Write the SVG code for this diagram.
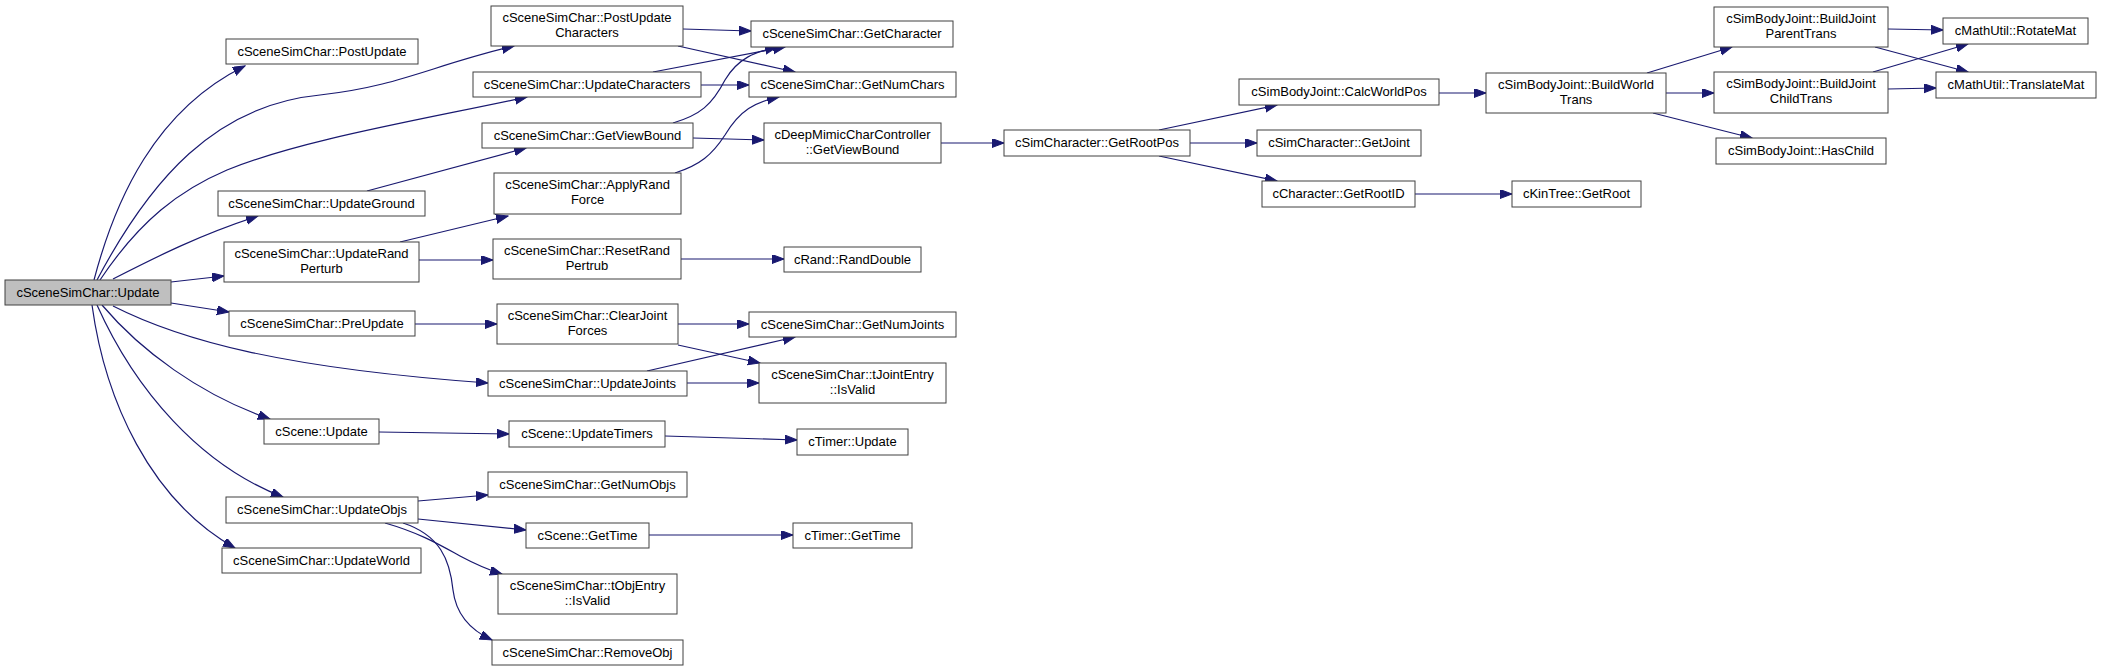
<svg xmlns="http://www.w3.org/2000/svg" width="2101" height="671" viewBox="0 0 2101 671">
<style>
.n rect{fill:#ffffff;stroke:#404040;stroke-width:1}
.n.cur rect{fill:#bfbfbf}
.n text{font-family:"Liberation Sans",Arial,sans-serif;font-size:13px;fill:#000;text-anchor:middle}
.e path{fill:none;stroke:#191970;stroke-width:1.2;marker-end:url(#ah)}
</style>
<defs>
<marker id="ah" markerUnits="userSpaceOnUse" markerWidth="13" markerHeight="10" refX="12" refY="4.5" orient="auto">
<path d="M0,0 L12,4.5 L0,9 z" fill="#191970" stroke="#191970" stroke-width="1"/>
</marker>
</defs>
<rect width="2101" height="671" fill="#ffffff"/>
<g id="edges" class="e">
<path d="M94,280 C115,200 155,110 245,66"/>
<path d="M97,280 C150,180 215,105 320,95 C400,86 430,66 514,46"/>
<path d="M100,280 C140,220 180,190 227,170 C300,140 420,120 527,97"/>
<path d="M113,279 C160,255 200,235 258,216"/>
<path d="M171,282 L224,276"/>
<path d="M171,303 L229,312"/>
<path d="M113,306 C180,340 280,368 488,383"/>
<path d="M102,305 C140,350 200,395 270,419"/>
<path d="M97,305 C135,390 200,465 283,497"/>
<path d="M92,305 C105,400 150,500 235,548"/>
<path d="M683,29 L751,31"/>
<path d="M678,46 L795,72"/>
<path d="M653,72 L785,47"/>
<path d="M701,85 L749,85"/>
<path d="M673,123 C700,115 712,105 725,80 C738,58 755,52 777,47"/>
<path d="M693,138 L764,140"/>
<path d="M675,173 C700,165 712,155 725,135 C740,110 755,102 779,97"/>
<path d="M367,191 L526,148"/>
<path d="M400,242 L508,216"/>
<path d="M419,260 L493,260"/>
<path d="M681,259 L784,259"/>
<path d="M415,324 L497,324"/>
<path d="M678,324 L749,324"/>
<path d="M678,345 L760,363"/>
<path d="M647,371 L795,337"/>
<path d="M687,383 L759,383"/>
<path d="M379,432 L509,434"/>
<path d="M665,436 L797,440"/>
<path d="M418,501 L488,495"/>
<path d="M418,519 L526,530"/>
<path d="M649,535 L793,535"/>
<path d="M385,523 C420,533 440,545 460,556 C475,564 485,569 502,574"/>
<path d="M403,523 C440,535 450,560 453,590 C456,615 470,630 492,640"/>
<path d="M941,143 L1004,143"/>
<path d="M1159,130 L1277,105"/>
<path d="M1190,143 L1257,143"/>
<path d="M1159,156 L1277,181"/>
<path d="M1439,93 L1486,93"/>
<path d="M1415,194 L1512,194"/>
<path d="M1647,73 L1732,47"/>
<path d="M1666,93 L1714,93"/>
<path d="M1653,113 L1752,138"/>
<path d="M1888,29 L1943,30"/>
<path d="M1875,47 L1968,72"/>
<path d="M1873,72 L1968,44"/>
<path d="M1888,89 L1936,88"/>
</g>
<g id="n_update" class="n cur"><rect x="5" y="280" width="166" height="25"/><text x="88" y="297">cSceneSimChar::Update</text></g>
<g id="n_postupdate" class="n"><rect x="226" y="39" width="192" height="25"/><text x="322" y="56">cSceneSimChar::PostUpdate</text></g>
<g id="n_updateground" class="n"><rect x="218" y="191" width="207" height="25"/><text x="321.5" y="208">cSceneSimChar::UpdateGround</text></g>
<g id="n_updaterandperturb" class="n"><rect x="224" y="242" width="195" height="40"/><text x="321.5" y="258">cSceneSimChar::UpdateRand</text><text x="321.5" y="273">Perturb</text></g>
<g id="n_preupdate" class="n"><rect x="229" y="311" width="186" height="25"/><text x="322" y="328">cSceneSimChar::PreUpdate</text></g>
<g id="n_updatejoints" class="n"><rect x="488" y="371" width="199" height="25"/><text x="587.5" y="388">cSceneSimChar::UpdateJoints</text></g>
<g id="n_scene_update" class="n"><rect x="264" y="419" width="115" height="25"/><text x="321.5" y="436">cScene::Update</text></g>
<g id="n_updateobjs" class="n"><rect x="226" y="497" width="192" height="26"/><text x="322" y="514">cSceneSimChar::UpdateObjs</text></g>
<g id="n_updateworld" class="n"><rect x="222" y="548" width="199" height="25"/><text x="321.5" y="565">cSceneSimChar::UpdateWorld</text></g>
<g id="n_postupdatechars" class="n"><rect x="491" y="6" width="192" height="40"/><text x="587" y="22">cSceneSimChar::PostUpdate</text><text x="587" y="37">Characters</text></g>
<g id="n_updatechars" class="n"><rect x="473" y="72" width="228" height="25"/><text x="587" y="89">cSceneSimChar::UpdateCharacters</text></g>
<g id="n_getviewbound" class="n"><rect x="482" y="123" width="211" height="25"/><text x="587.5" y="140">cSceneSimChar::GetViewBound</text></g>
<g id="n_applyrandforce" class="n"><rect x="494" y="173" width="187" height="41"/><text x="587.5" y="189">cSceneSimChar::ApplyRand</text><text x="587.5" y="204">Force</text></g>
<g id="n_resetrandpertrub" class="n"><rect x="493" y="239" width="188" height="40"/><text x="587" y="255">cSceneSimChar::ResetRand</text><text x="587" y="270">Pertrub</text></g>
<g id="n_clearjointforces" class="n"><rect x="497" y="304" width="181" height="40"/><text x="587.5" y="320">cSceneSimChar::ClearJoint</text><text x="587.5" y="335">Forces</text></g>
<g id="n_getcharacter" class="n"><rect x="751" y="21" width="202" height="26"/><text x="852" y="38">cSceneSimChar::GetCharacter</text></g>
<g id="n_getnumchars" class="n"><rect x="749" y="72" width="207" height="25"/><text x="852.5" y="89">cSceneSimChar::GetNumChars</text></g>
<g id="n_deepmimic" class="n"><rect x="764" y="123" width="177" height="40"/><text x="852.5" y="139">cDeepMimicCharController</text><text x="852.5" y="154">::GetViewBound</text></g>
<g id="n_randdouble" class="n"><rect x="784" y="247" width="137" height="25"/><text x="852.5" y="264">cRand::RandDouble</text></g>
<g id="n_getnumjoints" class="n"><rect x="749" y="312" width="207" height="25"/><text x="852.5" y="329">cSceneSimChar::GetNumJoints</text></g>
<g id="n_jointentry" class="n"><rect x="759" y="363" width="187" height="40"/><text x="852.5" y="379">cSceneSimChar::tJointEntry</text><text x="852.5" y="394">::IsValid</text></g>
<g id="n_updatetimers" class="n"><rect x="509" y="421" width="156" height="26"/><text x="587" y="438">cScene::UpdateTimers</text></g>
<g id="n_timerupdate" class="n"><rect x="797" y="429" width="111" height="26"/><text x="852.5" y="446">cTimer::Update</text></g>
<g id="n_getnumobjs" class="n"><rect x="488" y="472" width="199" height="25"/><text x="587.5" y="489">cSceneSimChar::GetNumObjs</text></g>
<g id="n_scenegettime" class="n"><rect x="526" y="523" width="123" height="25"/><text x="587.5" y="540">cScene::GetTime</text></g>
<g id="n_timergettime" class="n"><rect x="793" y="523" width="119" height="25"/><text x="852.5" y="540">cTimer::GetTime</text></g>
<g id="n_objentry" class="n"><rect x="498" y="574" width="179" height="40"/><text x="587.5" y="590">cSceneSimChar::tObjEntry</text><text x="587.5" y="605">::IsValid</text></g>
<g id="n_removeobj" class="n"><rect x="492" y="640" width="191" height="25"/><text x="587.5" y="657">cSceneSimChar::RemoveObj</text></g>
<g id="n_getrootpos" class="n"><rect x="1004" y="130" width="186" height="26"/><text x="1097" y="147">cSimCharacter::GetRootPos</text></g>
<g id="n_calcworldpos" class="n"><rect x="1239" y="79" width="200" height="26"/><text x="1339" y="96">cSimBodyJoint::CalcWorldPos</text></g>
<g id="n_getjoint" class="n"><rect x="1257" y="130" width="164" height="26"/><text x="1339" y="147">cSimCharacter::GetJoint</text></g>
<g id="n_getrootid" class="n"><rect x="1262" y="181" width="153" height="26"/><text x="1338.5" y="198">cCharacter::GetRootID</text></g>
<g id="n_buildworldtrans" class="n"><rect x="1486" y="73" width="180" height="40"/><text x="1576" y="89">cSimBodyJoint::BuildWorld</text><text x="1576" y="104">Trans</text></g>
<g id="n_getroot" class="n"><rect x="1512" y="181" width="129" height="26"/><text x="1576.5" y="198">cKinTree::GetRoot</text></g>
<g id="n_parenttrans" class="n"><rect x="1714" y="7" width="174" height="40"/><text x="1801" y="23">cSimBodyJoint::BuildJoint</text><text x="1801" y="38">ParentTrans</text></g>
<g id="n_childtrans" class="n"><rect x="1714" y="72" width="174" height="41"/><text x="1801" y="88">cSimBodyJoint::BuildJoint</text><text x="1801" y="103">ChildTrans</text></g>
<g id="n_haschild" class="n"><rect x="1716" y="138" width="170" height="26"/><text x="1801" y="155">cSimBodyJoint::HasChild</text></g>
<g id="n_rotatemat" class="n"><rect x="1943" y="18" width="145" height="26"/><text x="2015.5" y="35">cMathUtil::RotateMat</text></g>
<g id="n_translatemat" class="n"><rect x="1936" y="72" width="160" height="26"/><text x="2016" y="89">cMathUtil::TranslateMat</text></g>
</svg>
